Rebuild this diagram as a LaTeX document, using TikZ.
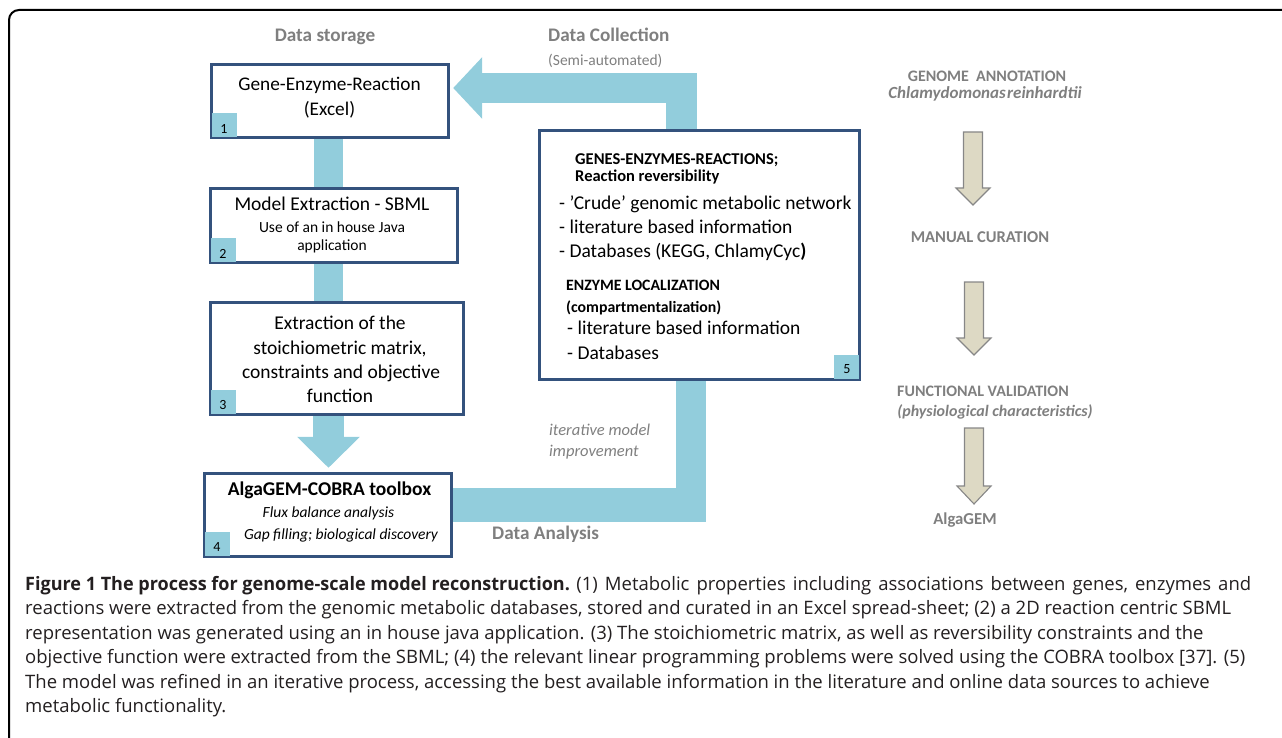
\documentclass[tikz,border=0pt]{standalone}
\usepackage{fontspec}
\setmainfont{Carlito}
\newfontfamily\capfont{Open Sans}[BoldFeatures={FakeStretch=0.975}]
\usetikzlibrary{arrows.meta,backgrounds}
\definecolor{lblue}{RGB}{146,205,220}
\definecolor{bblue}{RGB}{52,82,125}
\definecolor{lgray}{RGB}{127,127,127}
\definecolor{beige}{RGB}{221,217,196}
\definecolor{agray}{RGB}{135,135,135}
\definecolor{captxt}{RGB}{35,31,32}
\newcommand\fsz[1]{\fontsize{#1}{#1}\selectfont}
\newcommand\BArrow[4]{\draw[agray, line width=1.1pt, fill=beige, line join=miter]
  (#1-9.5,#2) -- (#1+9.5,#2) -- (#1+9.5,#3) -- (#1+17,#3) -- (#1,#4) -- (#1-17,#3) -- (#1-9.5,#3) -- cycle;}
\tikzset{
  box/.style={draw=bblue, line width=2.4pt, fill=white, inner sep=0pt, rectangle},
  tabsq/.style={fill=lblue, inner sep=0pt, minimum width=26pt, minimum height=25pt},
  num/.style={inner sep=0pt, font=\fsz{14}},
  ctext/.style={inner sep=0pt, anchor=mid},
  ltext/.style={inner sep=0pt, anchor=mid west},
  glab/.style={text=lgray, font=\bfseries\fsz{19.2}},
  rlab/.style={inner sep=0pt, anchor=mid, text=lgray, font=\bfseries\fsz{16.5}},
  capline/.style={inner sep=0pt, anchor=mid west, text=captxt, font=\capfont\fsz{18.5}},
  bandline/.style={draw=lblue, line cap=butt, line join=miter},
}
\begin{document}
\begin{tikzpicture}[x=1pt,y=-1pt]
\useasboundingbox (0,0) rectangle (1282,738);
\clip (0,0) rectangle (1282,738);
% frame
\draw[black, line width=2pt, rounded corners=10pt] (9,760) -- (9,10) -- (1300,10);

% boxes
\node[box, minimum width=236pt, minimum height=72pt] (b1) at (330,101) {};
\node[box, minimum width=246pt, minimum height=73pt] (b2) at (334,225.5) {};
\node[box, minimum width=252pt, minimum height=111pt] (b3) at (337,358.5) {};
\node[box, minimum width=246pt, minimum height=82pt] (b4) at (328,515) {};
\node[box, minimum width=319pt, minimum height=248pt] (b5) at (699.5,255) {};

% number tabs
\node[tabsq, anchor=south west] (tab1) at (b1.south west) {};
\node[tabsq, anchor=south west] (tab2) at (b2.south west) {};
\node[tabsq, anchor=south west] (tab3) at (b3.south west) {};
\node[tabsq, anchor=south west] (tab4) at (b4.south west) {};
\node[tabsq, anchor=south east] (tab5) at (b5.south east) {};
\foreach \b in {b1,b2,b3,b4,b5}
  \draw[bblue, line width=2.4pt] (\b.south west) rectangle (\b.north east);
\node[num] (n1) at ([yshift=-3pt]tab1.center) {1};
\node[num] (n2) at ([yshift=-3pt]tab2.center) {2};
\node[num] (n3) at ([yshift=-3pt]tab3.center) {3};
\node[num] (n4) at ([yshift=-3pt]tab4.center) {4};
\node[num] (n5) at ([yshift=-2pt]tab5.center) {5};

% box texts
\node[ctext, font=\fsz{19.3}] (t1a) at (329.5,88) {Gene-Enzyme-Reaction};
\node[ctext, font=\fsz{19.3}] (t1b) at (329.5,113) {(Excel)};
\node[ctext, font=\fsz{19.5}] (t2a) at (332,208) {Model Extraction - SBML};
\node[ctext, font=\fsz{15.5}] (t2b) at (332,230) {Use of an in house Java};
\node[ctext, font=\fsz{15.5}] (t2c) at (332,248) {application};
\node[ctext, font=\fsz{19.5}] (t3a) at (340,327) {Extraction of the};
\node[ctext, font=\fsz{19.5}] (t3b) at (340,352) {stoichiometric matrix,};
\node[ctext, font=\fsz{19.5}] (t3c) at (341,376) {constraints and objective};
\node[ctext, font=\fsz{19.5}] (t3d) at (340,400) {function};
\node[ctext, font=\bfseries\fsz{19.5}] (t4a) at (329.5,493) {AlgaGEM-COBRA toolbox};
\node[ctext, font=\itshape\fsz{15.5}] (t4b) at (328.5,515) {Flux balance analysis};
\node[ctext, font=\itshape\fsz{15.5}] (t4c) at (341,537) {Gap filling; biological discovery};

\node[ltext, font=\bfseries\fsz{16.5}] (t5a) at (575,162.5) {GENES-ENZYMES-REACTIONS;};
\node[ltext, font=\bfseries\fsz{16.5}] (t5b) at (575,179.5) {Reaction reversibility};
\node[ltext, font=\fsz{19.5}] (t5c) at (559,207) {- 'Crude' genomic metabolic network};
\node[ltext, font=\fsz{19.5}] (t5d) at (559,231) {- literature based information};
\node[ltext, font=\fsz{19.5}] (t5e) at (559,255) {- Databases (KEGG, ChlamyCyc\textbf{)}};
\node[ltext, font=\bfseries\fsz{15.8}] (t5f) at (566,288) {ENZYME LOCALIZATION};
\node[ltext, font=\bfseries\fsz{15.8}] (t5g) at (566,310) {(compartmentalization)};
\node[ltext, font=\fsz{19.5}] (t5h) at (567,332) {- literature based information};
\node[ltext, font=\fsz{19.5}] (t5i) at (567,357) {- Databases};

% gray labels
\node[ctext, glab] (ds) at (325,39) {Data storage};
\node[ltext, glab] (dc) at (548,39) {Data Collection};
\node[ltext, text=lgray, font=\fsz{15.5}] (dcs) at (548,63) {(Semi-automated)};
\node[ltext, glab] (da) at (492,537) {Data Analysis};
\node[ltext, text=lgray, font=\itshape\fsz{16.5}] (im1) at (549,433) {iterative model};
\node[ltext, text=lgray, font=\itshape\fsz{16.5}] (im2) at (549,454) {improvement};

% right column
\node[rlab, font=\bfseries\fsz{16}] (g1) at (987,79) {GENOME\hspace{0.45em}ANNOTATION};
\node[rlab, font=\bfseries\itshape\fsz{17}] (g2) at (985,96) {Chlamydomonas\hspace{0.08em}reinhardtii};
\node[rlab] (g3) at (980,240) {MANUAL CURATION};
\node[rlab, font=\bfseries\fsz{16}] (g4) at (983,394) {FUNCTIONAL VALIDATION};
\node[rlab, font=\bfseries\itshape\fsz{16}] (g5) at (995,414) {(physiological characteristics)};
\node[rlab, font=\bfseries\fsz{16.7}] (g6) at (965,522) {AlgaGEM};
\BArrow{973}{132}{188}{205}
\BArrow{974}{282}{338}{355}
\BArrow{974}{428}{486}{504}

% caption
\node[capline] (c1) at (25,588) {\textbf{Figure 1 The process for genome-scale model reconstruction.} {\spaceskip=7pt plus 1pt (1) Metabolic properties including associations between genes, enzymes and}};
\node[capline] (c2) at (25,612.5) {reactions were extracted from the genomic metabolic databases, stored and curated in an Excel spread-sheet; (2) a 2D reaction centric SBML};
\node[capline] (c3) at (25,637) {representation was generated using an in house java application. (3) The stoichiometric matrix, as well as reversibility constraints and the};
\node[capline] (c4) at (25,661.5) {objective function were extracted from the SBML; (4) the relevant linear programming problems were solved using the COBRA toolbox [37]. (5)};
\node[capline] (c5) at (25,686) {The model was refined in an iterative process, accessing the best available information in the literature and online data sources to achieve};
\node[capline] (c6) at (25,710.5) {metabolic functionality.};

% connectors (behind the boxes)
\begin{scope}[on background layer]
\coordinate (cx) at (328.5,0);
\coordinate (cv) at (681.5,88);
\coordinate (k1) at (706,505);
\coordinate (k2) at (691,522);
\draw[bandline, line width=29pt] (b1.south -| cx) -- (b2.north -| cx);
\draw[bandline, line width=29pt] (b2.south -| cx) -- (b3.north -| cx);
\draw[bandline, line width=31pt, -{Triangle[width=61pt,length=31pt]}, shorten >=5pt, lblue] (b3.south -| cx) -- (b4.north -| cx);
\draw[bandline, line width=30.5pt, -{Triangle[width=60pt,length=29pt]}, shorten >=4pt, lblue] (b5.north -| cv) -- (cv) -- (b1.east |- cv);
\draw[bandline, line width=34pt] (b4.east |- k1) -- (k1);
\draw[bandline, line width=30pt] (b5.south -| k2) -- (k2);
\end{scope}
\end{tikzpicture}
\end{document}
